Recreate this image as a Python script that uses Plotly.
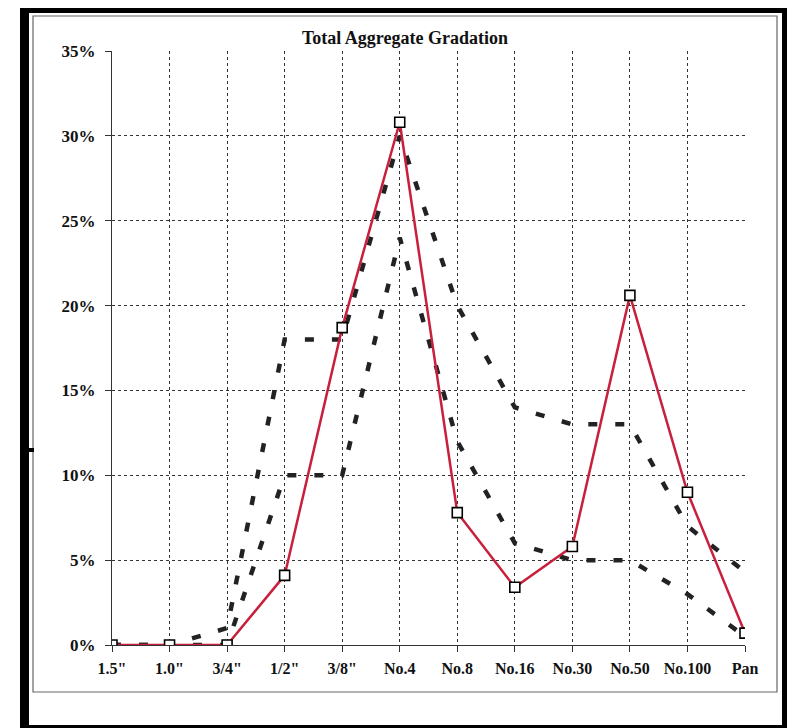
import plotly.graph_objects as go

sieves = ['1.5"', '1.0"', '3/4"', '1/2"', '3/8"', 'No.4', 'No.8', 'No.16', 'No.30', 'No.50', 'No.100', 'Pan']
gradation = [0.0, 0.0, 0.0, 4.1, 18.7, 30.8, 7.8, 3.4, 5.8, 20.6, 9.0, 0.7]
upper_limit = [0.0, 0.0, 1.0, 18.0, 18.0, 30.0, 20.0, 14.0, 13.0, 13.0, 7.0, 4.3]
lower_limit = [0.0, 0.0, 0.0, 10.0, 10.0, 24.0, 12.0, 6.0, 5.0, 5.0, 3.0, 0.5]
y_ticks = [0, 5, 10, 15, 20, 25, 30, 35]
y_labels = [f"{v}%" for v in y_ticks]

OFF = 8  # page body margin offset
W, H = 795 - OFF, 728 - OFF
# plot area in page pixel coords
L, R, T, B = 112, 745, 51, 645

def px(x):
    return (x - L) / (R - L)

def py(y):
    return (B - y) / (B - T)

fig = go.Figure()
for vals in (upper_limit, lower_limit):
    fig.add_trace(go.Scatter(
        x=sieves, y=vals, mode="lines",
        line=dict(color="#222222", width=4.5, dash="9px,18px"),
        showlegend=False, hoverinfo="skip"))
fig.add_trace(go.Scatter(
    x=sieves, y=gradation, mode="lines+markers",
    line=dict(color="#c8203c", width=2.5),
    marker=dict(symbol="square", size=10, color="white",
                line=dict(color="black", width=1.6)),
    showlegend=False))

font_serif = "Liberation Serif, Times New Roman, serif"
fig.update_layout(
    width=W, height=H,
    margin=dict(l=L - OFF, r=(W + OFF) - R, t=T - OFF, b=(H + OFF) - B),
    paper_bgcolor="white", plot_bgcolor="white",
    title=dict(text="<b>Total Aggregate Gradation</b>", x=(405 - OFF) / W, xref="container",
               xanchor="center", y=1 - (38 - OFF) / H, yref="container", yanchor="middle",
               font=dict(family=font_serif, size=18, color="#111")),
    font=dict(family=font_serif, size=16, color="#111"),
)
fig.update_xaxes(
    type="category", range=[0, 11], showgrid=True,
    gridcolor="#333", gridwidth=1, griddash="3px,3px",
    showline=True, linecolor="#333", linewidth=1.2,
    ticks="outside", ticklen=6, tickcolor="#333", ticklabelstandoff=3,
    tickfont=dict(family=font_serif, size=16, color="#111", weight="bold"),
    zeroline=False)
fig.update_yaxes(
    range=[0, 35], tickvals=y_ticks, ticktext=y_labels,
    showgrid=True, gridcolor="#333", gridwidth=1, griddash="3px,3px",
    showline=True, linecolor="#333", linewidth=1.2,
    ticks="outside", ticklen=6, tickcolor="#333", ticklabelstandoff=6,
    tickfont=dict(family=font_serif, size=17, color="#111", weight="bold"),
    zeroline=False)

shapes = []
# thin inner frame
shapes.append(dict(type="rect", xref="paper", yref="paper",
                   x0=px(33), x1=px(777), y0=py(692), y1=py(16),
                   line=dict(color="#666", width=1.2), fillcolor="rgba(0,0,0,0)", layer="below"))
# thick black outer frame pieces (page coords)
for (x0, y0, x1, y1) in [(20, 5, 791, 13), (20, 5, 29, 728), (782, 5, 791, 728), (20, 725, 791, 728)]:
    shapes.append(dict(type="rect", xref="paper", yref="paper",
                       x0=px(x0), x1=px(x1), y0=py(y1), y1=py(y0),
                       line=dict(width=0), fillcolor="black", layer="above"))
# small scan mark on left edge
shapes.append(dict(type="rect", xref="paper", yref="paper",
                   x0=px(29), x1=px(34), y0=py(452), y1=py(448),
                   line=dict(width=0), fillcolor="black"))
fig.update_layout(shapes=shapes)

fig.write_html("out.html")
